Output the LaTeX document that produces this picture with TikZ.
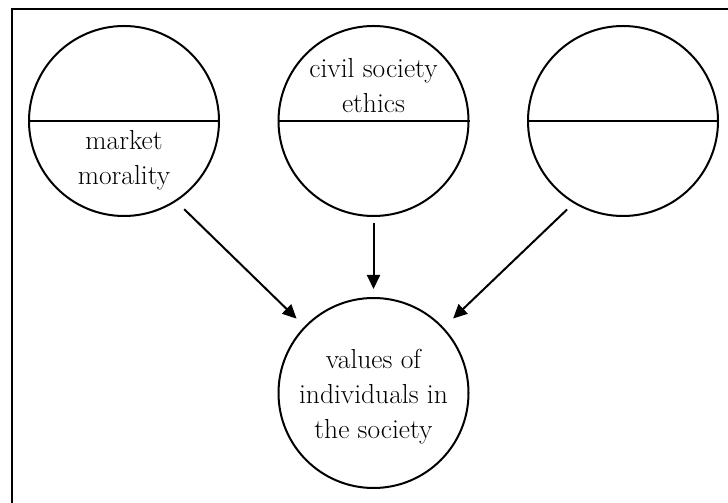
\documentclass[tikz,border=0pt]{standalone}
\usepackage{fontspec}
\usepackage{tikz}
\usetikzlibrary{arrows.meta, positioning}

\tikzset{
  circ/.style={circle, draw, line width=2pt, minimum size=190pt, inner sep=0pt},
  lbl/.style={align=center, inner sep=0pt, font=\fontsize{27.5}{35}\selectfont},
  arr/.style={-{Triangle[length=14pt,width=13pt]}, line width=2pt}
}

\begin{document}
\begin{tikzpicture}[x=1pt, y=1pt]
\useasboundingbox (0,0) rectangle (728,503);
% frame, cut at right and bottom
\draw[line width=2.2pt] (12,-10) -- (12,494) -- (740,494);

% top row
\node[circ] (market) at (124,382) {};
\node[circ] (civil) at (373.5,382) {};
\node[circ] (other) at (623,382) {};
\draw[line width=2pt] (market.west) -- (market.east);
\draw[line width=2pt] (civil.west) -- (civil.east);
\draw[line width=2pt] (other.west) -- (other.east);

\node[lbl, below=9pt of market.center] (marketlbl) {market\\morality};
\node[lbl, above=8pt of civil.center] (civillbl) {civil society\\ethics};

% bottom
\node[circ] (values) at (373.5,110) {};
\node[lbl] (valueslbl) at ([yshift=-3.5pt]values.center) {values of\\individuals in\\the society};

% arrows
\draw[arr, shorten <=11pt, shorten >=11pt] (market.-57) -- (values.136);
\draw[arr, shorten <=6pt, shorten >=8pt] (civil.south) -- (values.north);
\draw[arr, shorten <=9pt, shorten >=13pt] (other.-121) -- (values.43);
\end{tikzpicture}
\end{document}
